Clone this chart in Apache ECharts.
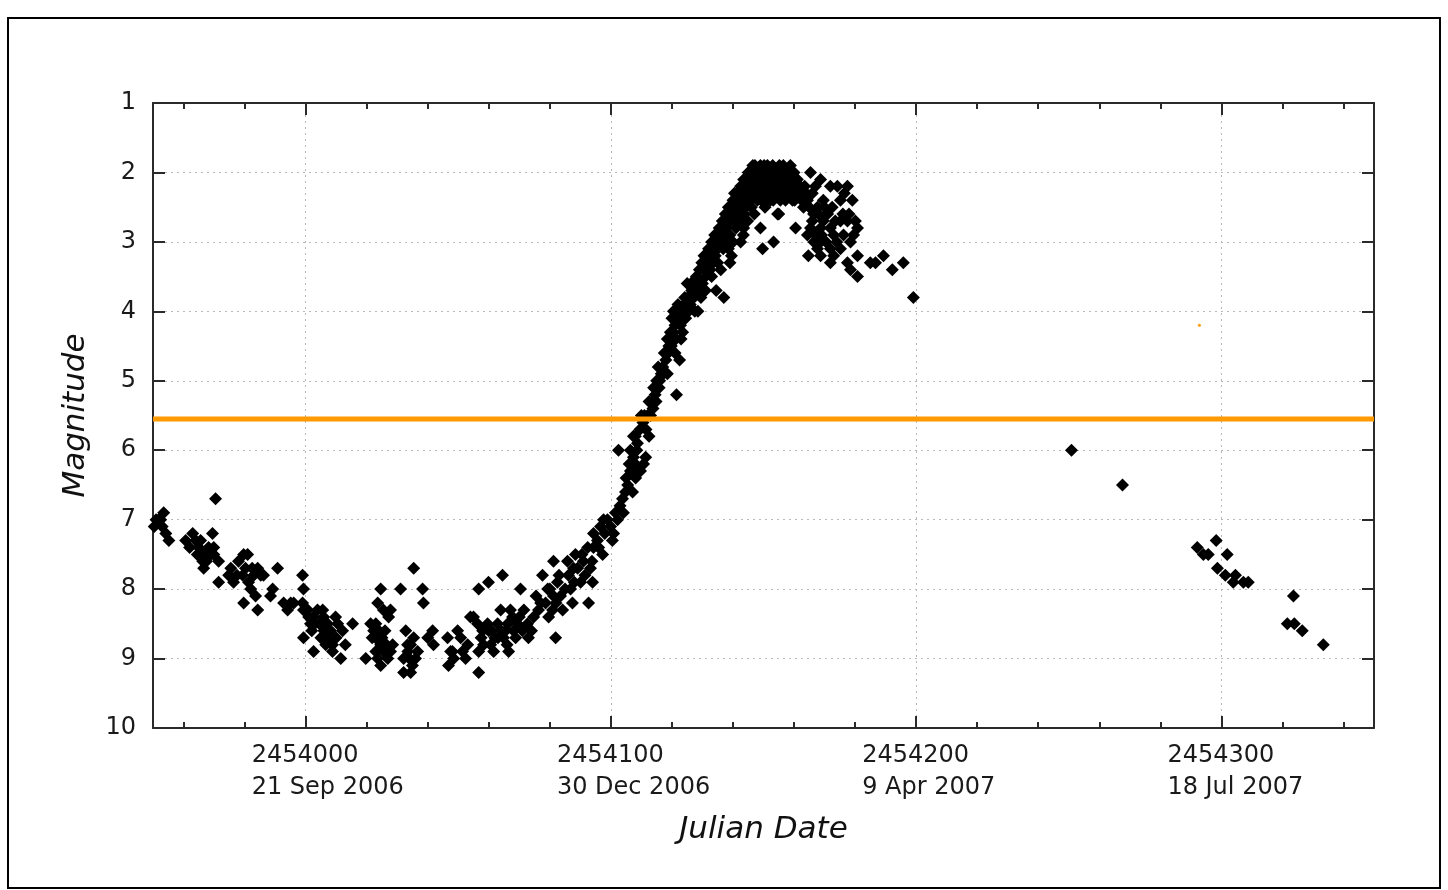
<!DOCTYPE html>
<html>
<head>
<meta charset="utf-8">
<script src="https://cdn.jsdelivr.net/npm/echarts@6/dist/echarts.min.js"></script>
<style>
  html, body { margin: 0; padding: 0; background: #fff; }
  #chart { width: 1448px; height: 890px; }
</style>
</head>
<body>
<div id="chart"></div>
<script>
// Axis ranges
const jdMin = 2453950;
const jdMax = 2454350;
const magMin = 1;
const magMax = 10;

// Tick positions and labels on the Julian Date axis
const xMajorTicks = [2454000, 2454100, 2454200, 2454300];
const xTickDates = ['21 Sep 2006', '30 Dec 2006', '9 Apr 2007', '18 Jul 2007'];
const xMinorTicks = [2453960, 2453980, 2454020, 2454040, 2454060, 2454080,
  2454120, 2454140, 2454160, 2454180, 2454220, 2454240, 2454260, 2454280,
  2454320, 2454340];

// Reference magnitude level (orange line)
const referenceMag = 5.55;

// Observations [Julian Date, magnitude]
const fadingObs = [
  [2453950.4,7.1],[2453951.0,7.0],[2453951.8,7.0],[2453952.5,7.0],[2453953.5,6.9],[2453953.0,7.1],[2453954.2,7.2],[2453955.2,7.3],
  [2453960.7,7.3],[2453963.0,7.2],[2453964.0,7.3],[2453965.6,7.3],[2453965.0,7.4],[2453966.6,7.5],[2453966.3,7.6],[2453966.6,7.7],
  [2453968.2,7.4],[2453969.5,7.2],[2453969.9,7.4],[2453969.9,7.5],[2453971.5,7.6],[2453971.5,7.9],[2453968.9,7.5],[2453970.5,6.7],
  [2453974.8,7.8],[2453976.4,7.9],[2453978.0,7.6],[2453979.7,7.5],[2453981.0,7.5],[2453980.3,7.7],[2453979.4,7.8],[2453981.3,7.9],
  [2453982.0,8.0],[2453983.0,7.8],[2453984.3,7.7],[2453985.3,7.8],[2453986.2,7.8],[2453983.6,8.1],[2453979.7,8.2],[2453984.3,8.3],
  [2453989.2,8.0],[2453988.5,8.1],[2453990.8,7.7],[2453992.8,8.2],[2453994.1,8.3],[2453995.1,8.2],[2453996.1,8.2],[2453999.0,7.8],
  [2453999.3,8.0],[2453999.0,8.2],[2453999.3,8.3],[2453999.3,8.7],
  [2453962.0,7.4],[2453964.5,7.5],[2453967.5,7.6],[2453975.5,7.7],[2453977.5,7.8],[2453982.5,7.7]
];

const minimumObs = [
  [2454000.7,8.3],[2454001.0,8.4],[2454001.6,8.5],[2454002.6,8.4],[2454003.9,8.3],[2454005.6,8.3],[2454005.9,8.4],[2454007.2,8.5],
  [2454008.2,8.6],[2454009.8,8.4],[2454010.5,8.5],[2454012.1,8.6],[2454008.8,8.8],[2454006.6,8.8],[2454002.6,8.9],[2454008.8,8.9],
  [2454011.5,9.0],[2454015.4,8.5],[2454004.5,8.5],[2454006.0,8.6],[2454010.0,8.7],[2454013.0,8.8],
  [2454002.0,8.6],[2454003.0,8.5],[2454005.0,8.7],[2454007.5,8.7],
  [2454019.7,9.0],[2454021.3,8.5],[2454022.3,8.6],[2454023.6,8.2],[2454024.6,8.0],[2454025.5,8.3],[2454027.2,8.4],[2454027.8,8.3],
  [2454022.9,8.7],[2454024.6,8.8],[2454025.5,8.9],[2454023.6,9.0],[2454026.9,9.0],[2454027.8,8.9],[2454024.6,9.1],[2454026.0,8.6],
  [2454021.8,8.7],[2454023.0,8.9],[2454024.0,8.6],[2454025.0,8.7],[2454026.5,8.8],[2454023.0,8.5],
  [2454028.5,8.8],[2454031.1,8.0],[2454032.8,8.6],[2454033.4,8.8],[2454032.1,9.0],[2454034.4,8.8],[2454035.4,8.7],[2454036.7,8.9],
  [2454032.1,9.2],[2454034.4,9.2],[2454035.0,9.1],[2454033.5,8.9],[2454034.0,9.0],[2454036.0,9.0],
  [2454035.4,7.7],[2454038.3,8.0],[2454038.6,8.2],[2454040.0,8.7],
  [2454041.6,8.6],[2454041.9,8.8],[2454046.5,8.7],[2454047.5,8.9],[2454048.5,9.0],[2454049.8,8.6],[2454050.8,8.7],[2454051.4,8.9],
  [2454052.4,9.0],[2454046.8,9.1],[2454054.0,8.4],[2454048.1,8.9],[2454053.1,8.8]
];

const recoveryObs = [
  [2454055.0,8.4],[2454056.3,8.5],[2454056.7,8.9],[2454056.7,9.2],[2454056.7,8.0],[2454059.9,7.9],[2454064.5,7.8],[2454058.0,8.6],
  [2454058.3,8.8],[2454059.6,8.5],[2454060.6,8.8],[2454061.6,8.9],[2454062.9,8.5],[2454063.9,8.3],[2454064.8,8.7],[2454066.2,8.5],
  [2454066.5,8.9],[2454067.8,8.4],[2454068.1,8.6],[2454067.1,8.3],[2454069.4,8.5],[2454070.4,8.0],[2454072.7,8.5],[2454073.0,8.7],
  [2454074.7,8.4],[2454076.3,8.3],[2454077.6,7.8],[2454079.3,8.0],[2454078.6,8.2],[2454079.6,8.4],[2454080.9,8.3],[2454081.2,8.1],
  [2454081.2,7.6],[2454081.9,8.7],[2454082.5,7.9],[2454083.5,8.1],[2454084.2,8.3],[2454085.8,7.6],[2454086.1,7.8],[2454086.8,8.0],
  [2454087.4,8.2],[2454088.4,7.5],[2454089.1,7.7],[2454090.1,7.9],[2454091.0,7.6],[2454092.4,7.4],[2454092.7,8.2],[2454093.3,7.7],
  [2454094.0,7.9],[2454094.3,7.4],[2454094.3,7.2],[2454095.6,7.3],[2454096.6,7.1],[2454097.3,7.5],[2454097.6,7.0],[2454098.9,7.0],
  [2454099.9,7.1],[2454100.5,7.3],[2454100.9,7.2],[2454102.2,7.0],[2454102.5,6.0],[2454103.8,6.7],[2454104.1,6.9],[2454104.8,6.6],
  [2454105.5,6.5],[2454106.4,6.0],[2454106.4,6.3],[2454107.4,6.1],[2454107.4,5.8],[2454108.7,5.9],
  [2454061.0,8.6],[2454063.0,8.7],[2454065.5,8.6],[2454071.5,8.3],[2454075.5,8.1],[2454083.0,7.8],[2454088.0,7.9],[2454090.5,7.5],
  [2454096.0,7.4],[2454098.0,7.2],[2454101.5,6.9],[2454103.0,6.8],[2454105.0,6.4],[2454106.0,6.2],[2454108.0,6.2],[2454108.5,6.0],
  [2454109.7,6.3],[2454110.7,6.2],[2454111.4,6.1],[2454108.1,6.4],[2454107.1,6.6],
  [2454057.5,8.7],[2454060.0,8.6],[2454062.0,8.7],[2454064.0,8.6],[2454066.0,8.8],[2454068.8,8.7],[2454070.0,8.4],[2454071.0,8.6],
  [2454074.0,8.6],[2454077.0,8.2],[2454080.0,8.0],[2454082.0,8.2],[2454085.0,8.0],[2454087.8,7.7],[2454091.5,7.8],[2454093.8,7.6]
];

const riseObs = [
  [2454108.0,5.8],[2454109.5,5.7],[2454110.5,5.6],[2454111.5,5.7],[2454112.0,5.5],[2454112.5,5.8],[2454110.0,5.5],[2454111.0,5.5],
  [2454113.0,5.5],[2454112.5,5.3],[2454113.5,5.3],[2454114.0,5.1],[2454115.0,5.0],[2454115.5,4.8],[2454117.0,4.8],[2454118.5,4.9],
  [2454121.5,5.2],[2454116.0,5.0],[2454114.5,5.2],[2454117.5,4.6],[2454118.5,4.4],[2454119.5,4.3],[2454120.0,4.1],[2454120.5,4.0],
  [2454122.0,3.9],[2454122.5,4.7],[2454121.0,4.6],[2454124.0,3.9],[2454124.5,4.1],[2454125.5,4.0],[2454123.5,4.3],[2454123.0,4.4],
  [2454125.0,3.6],[2454126.5,3.7],[2454127.5,4.0],[2454128.5,4.0],[2454129.5,3.8],[2454130.0,3.6],[2454131.0,3.5],[2454131.5,3.3],
  [2454132.5,3.4],[2454133.5,3.3],[2454135.0,3.1],[2454136.0,3.4],[2454134.5,3.7],[2454137.0,3.8],[2454137.0,3.0],[2454138.0,2.9],
  [2454138.5,3.1],[2454139.5,3.2],[2454139.0,3.3],[2454137.5,2.6],[2454138.5,2.5],[2454140.0,2.4],[2454141.5,2.3],[2454142.5,2.2],
  [2454119.0,4.5],[2454121.0,4.2],[2454122.0,4.1],[2454126.0,3.9],[2454127.0,3.6],[2454128.0,3.5],[2454129.0,3.4],[2454130.5,3.2],
  [2454132.0,3.1],[2454133.0,3.0],[2454134.0,2.9],[2454135.5,2.8],[2454136.5,2.7],[2454131.0,3.7],[2454133.0,3.5],[2454135.0,3.3],
  [2454113.8,5.4],[2454114.8,5.3],[2454115.8,5.1],[2454116.5,4.9],[2454117.2,4.9],[2454118.0,4.7],[2454118.8,4.6],[2454119.8,4.5],
  [2454120.5,4.3],[2454121.3,4.4],[2454121.8,4.0],[2454122.8,4.2],[2454123.2,4.0],[2454124.2,3.8],[2454125.2,3.8],[2454126.2,3.6],
  [2454127.2,3.8],[2454128.2,3.7],[2454129.2,3.6],[2454129.8,3.3],[2454130.8,3.4],[2454131.8,3.2],[2454132.8,3.2],[2454133.8,3.1],
  [2454134.2,3.2],[2454135.2,3.0],[2454136.2,2.9],[2454136.8,3.1],[2454137.8,2.8],[2454138.2,2.7],[2454139.2,2.7],[2454140.2,2.6],
  [2454140.8,2.7],[2454141.8,2.5],[2454142.8,2.5],[2454143.8,2.6],[2454144.2,2.5],[2454144.8,2.7]
];

const peakObs = [
  [2454140.5,2.3],[2454141.0,2.5],[2454141.5,2.6],[2454142.0,2.4],[2454142.5,2.7],[2454143.0,2.3],[2454143.5,2.1],[2454144.0,2.4],
  [2454144.5,2.2],[2454145.0,2.0],[2454145.5,2.3],[2454146.0,2.1],[2454146.5,1.9],[2454147.0,2.2],[2454147.5,2.0],[2454148.0,2.4],
  [2454148.5,2.1],[2454149.0,1.9],[2454149.5,2.3],[2454150.0,2.0],[2454150.5,2.2],[2454151.0,2.4],[2454151.5,2.1],[2454152.0,2.0],
  [2454152.5,2.3],[2454153.0,1.9],[2454153.5,2.1],[2454154.0,2.0],[2454154.5,2.3],[2454155.0,2.2],[2454155.5,2.4],[2454156.0,2.0],
  [2454156.5,1.9],[2454157.0,2.1],[2454157.5,2.3],[2454158.0,2.0],[2454158.5,2.2],[2454159.0,2.1],[2454159.5,2.4],[2454160.0,2.0],
  [2454160.5,2.2],[2454161.5,2.3],[2454146.0,2.5],[2454147.0,2.6],[2454150.5,2.5],[2454155.0,2.6],[2454143.5,2.8],[2454141.0,2.8],
  [2454139.5,2.6],[2454139.0,2.9],[2454140.0,3.0],[2454142.5,3.0],[2454145.7,2.0],[2454151.3,1.9],[2454158.8,1.9],[2454155.6,2.0],
  [2454149.0,2.2],[2454153.3,2.2],[2454157.9,2.2],[2454161.1,2.1],[2454149.7,3.1],[2454153.3,3.0],[2454160.5,2.8],[2454154.6,2.6],
  [2454152.3,2.4],[2454149.0,2.8],[2454143.4,2.9],
  [2454143.2,2.2],[2454144.3,2.1],[2454145.2,2.2],[2454145.8,2.4],[2454146.2,2.0],[2454146.8,2.3],[2454147.2,1.9],[2454147.8,2.1],
  [2454148.2,2.2],[2454148.8,2.0],[2454149.2,2.4],[2454149.8,2.1],[2454150.2,1.9],[2454150.8,2.3],[2454151.2,2.2],[2454151.8,2.0],
  [2454152.2,2.1],[2454152.8,2.2],[2454153.2,2.4],[2454153.8,2.0],[2454154.2,2.2],[2454154.8,2.1],[2454155.2,1.9],[2454155.8,2.3],
  [2454156.2,2.2],[2454156.8,2.0],[2454157.2,2.4],[2454157.8,2.1],[2454158.2,2.3],[2454158.8,2.0],[2454159.2,2.3],[2454159.8,2.2],
  [2454160.2,2.4],[2454160.8,2.1],[2454161.2,2.3],[2454162.0,2.2],[2454162.5,2.4],[2454163.5,2.2],[2454164.0,2.3],[2454165.0,2.5],
  [2454166.0,2.3],[2454167.0,2.2]
];

const decayObs = [
  [2454165.4,2.0],[2454168.7,2.1],[2454171.9,2.2],[2454174.2,2.2],[2454177.5,2.2],[2454179.1,2.4],[2454169.6,2.4],[2454167.7,2.5],
  [2454164.4,2.4],[2454162.1,2.3],[2454163.1,2.5],[2454166.4,2.6],[2454171.0,2.6],[2454169.6,2.7],[2454175.2,2.4],[2454175.2,2.7],
  [2454177.5,2.7],[2454180.1,2.7],[2454180.8,2.8],[2454178.5,3.0],[2454176.2,2.9],[2454171.9,2.8],[2454168.7,2.8],[2454165.4,2.8],
  [2454164.4,2.9],[2454168.7,3.0],[2454171.9,3.1],[2454167.7,3.1],[2454164.7,3.2],[2454168.7,3.2],[2454171.9,3.3],[2454175.2,3.1],
  [2454177.5,3.3],[2454178.5,3.4],[2454180.8,3.5],[2454180.8,3.2],[2454185.0,3.3],[2454186.7,3.3],[2454189.3,3.2],[2454192.2,3.4],
  [2454195.8,3.3],[2454199.1,3.8],
  [2454166.0,2.7],[2454167.0,2.9],[2454168.0,2.6],[2454169.0,2.9],[2454170.0,2.5],[2454170.5,3.0],[2454172.5,2.5],[2454173.0,2.9],
  [2454173.5,2.7],[2454174.0,3.0],[2454176.0,2.6],[2454176.5,2.3],[2454178.0,2.6],[2454179.5,2.9],[2454173.0,3.2],[2454166.5,3.0]
];

const lateObs = [
  [2454250.9,6.0],[2454267.6,6.5],[2454292.1,7.4],[2454294.1,7.5],[2454295.7,7.5],[2454298.3,7.3],[2454301.9,7.5],[2454298.7,7.7],
  [2454301.3,7.8],[2454304.6,7.8],[2454303.9,7.9],[2454307.2,7.9],[2454308.8,7.9],[2454323.6,8.1],[2454321.6,8.5],[2454323.9,8.5],
  [2454326.5,8.6],[2454333.4,8.8]
];

// Single observation plotted in orange
const orangeObs = [[2454292.8, 4.2]];

const allObs = [].concat(fadingObs, minimumObs, recoveryObs, riseObs, peakObs, decayObs, lateObs);

const axisColor = '#2a2a2a';
const gridLine = { show: true, lineStyle: { color: '#b8b8b8', width: 1, type: [2, 4] } };
const fontFamily = '"DejaVu Sans", sans-serif';

function xAxisBase(position) {
  return {
    type: 'value', position: position, min: jdMin, max: jdMax,
    axisLine: { show: true, onZero: false, lineStyle: { color: axisColor, width: 2 } },
    splitLine: { show: false },
    axisLabel: { show: false }
  };
}

const chart = echarts.init(document.getElementById('chart'), null, { renderer: 'canvas' });

chart.setOption({
  backgroundColor: '#ffffff',
  animation: false,
  graphic: [{
    type: 'rect', silent: true, z: 0,
    shape: { x: 8, y: 18, width: 1432, height: 870 },
    style: { fill: 'none', stroke: '#000', lineWidth: 2 }
  }],
  grid: { left: 153, top: 103, right: 74, bottom: 162, containLabel: false },
  xAxis: [
    Object.assign(xAxisBase('bottom'), {
      name: 'Julian Date',
      nameLocation: 'middle',
      nameGap: 86,
      nameTextStyle: { fontFamily: fontFamily, fontSize: 31, fontStyle: 'italic', color: '#111' },
      axisTick: { show: true, inside: true, length: 12, customValues: xMajorTicks, lineStyle: { color: axisColor, width: 2 } },
      splitLine: gridLine,
      axisLabel: {
        show: true,
        customValues: xMajorTicks,
        margin: 12,
        padding: [0, 0, 0, 52],
        formatter: function (v) {
          const i = xMajorTicks.indexOf(Math.round(v));
          return '{n|' + Math.round(v) + '}\n{d|' + (xTickDates[i] || '') + '}';
        },
        rich: {
          n: { fontFamily: fontFamily, fontSize: 24, color: '#1a1a1a', width: 160, align: 'left', lineHeight: 32 },
          d: { fontFamily: fontFamily, fontSize: 24, color: '#1a1a1a', width: 160, align: 'left', lineHeight: 32 }
        }
      }
    }),
    Object.assign(xAxisBase('bottom'), {
      axisLine: { show: false },
      axisTick: { show: true, inside: true, length: 6, customValues: xMinorTicks, lineStyle: { color: axisColor, width: 2 } }
    }),
    Object.assign(xAxisBase('top'), {
      axisTick: { show: true, inside: true, length: 12, customValues: xMajorTicks, lineStyle: { color: axisColor, width: 2 } }
    }),
    Object.assign(xAxisBase('top'), {
      axisLine: { show: false },
      axisTick: { show: true, inside: true, length: 6, customValues: xMinorTicks, lineStyle: { color: axisColor, width: 2 } }
    })
  ],
  yAxis: [
    {
      type: 'value', position: 'left', inverse: true, min: magMin, max: magMax, interval: 1,
      name: 'Magnitude',
      nameLocation: 'middle',
      nameGap: 62,
      nameRotate: 90,
      nameTextStyle: { fontFamily: fontFamily, fontSize: 31, fontStyle: 'italic', color: '#111' },
      axisLine: { show: true, onZero: false, lineStyle: { color: axisColor, width: 2 } },
      axisTick: { show: true, inside: true, length: 12, lineStyle: { color: axisColor, width: 2 } },
      axisLabel: { show: true, margin: 17, fontFamily: fontFamily, fontSize: 24, color: '#1a1a1a' },
      splitLine: gridLine
    },
    {
      type: 'value', position: 'right', inverse: true, min: magMin, max: magMax, interval: 1,
      axisLine: { show: true, onZero: false, lineStyle: { color: axisColor, width: 2 } },
      axisTick: { show: true, inside: true, length: 12, lineStyle: { color: axisColor, width: 2 } },
      axisLabel: { show: false },
      splitLine: { show: false }
    }
  ],
  series: [
    {
      name: 'Visual',
      type: 'scatter',
      xAxisIndex: 0, yAxisIndex: 0,
      symbol: 'diamond',
      symbolSize: 13,
      itemStyle: { color: '#000000', opacity: 1 },
      data: allObs,
      z: 2
    },
    {
      name: 'Other',
      type: 'scatter',
      xAxisIndex: 0, yAxisIndex: 0,
      symbol: 'circle',
      symbolSize: 3,
      itemStyle: { color: '#ff9a00', opacity: 1 },
      data: orangeObs,
      z: 2
    },
    {
      name: 'Reference',
      type: 'line',
      xAxisIndex: 0, yAxisIndex: 0,
      symbol: 'none',
      lineStyle: { color: '#ff9a00', width: 5 },
      data: [[jdMin, referenceMag], [jdMax, referenceMag]],
      z: 4,
      silent: true
    }
  ]
});
</script>
</body>
</html>
